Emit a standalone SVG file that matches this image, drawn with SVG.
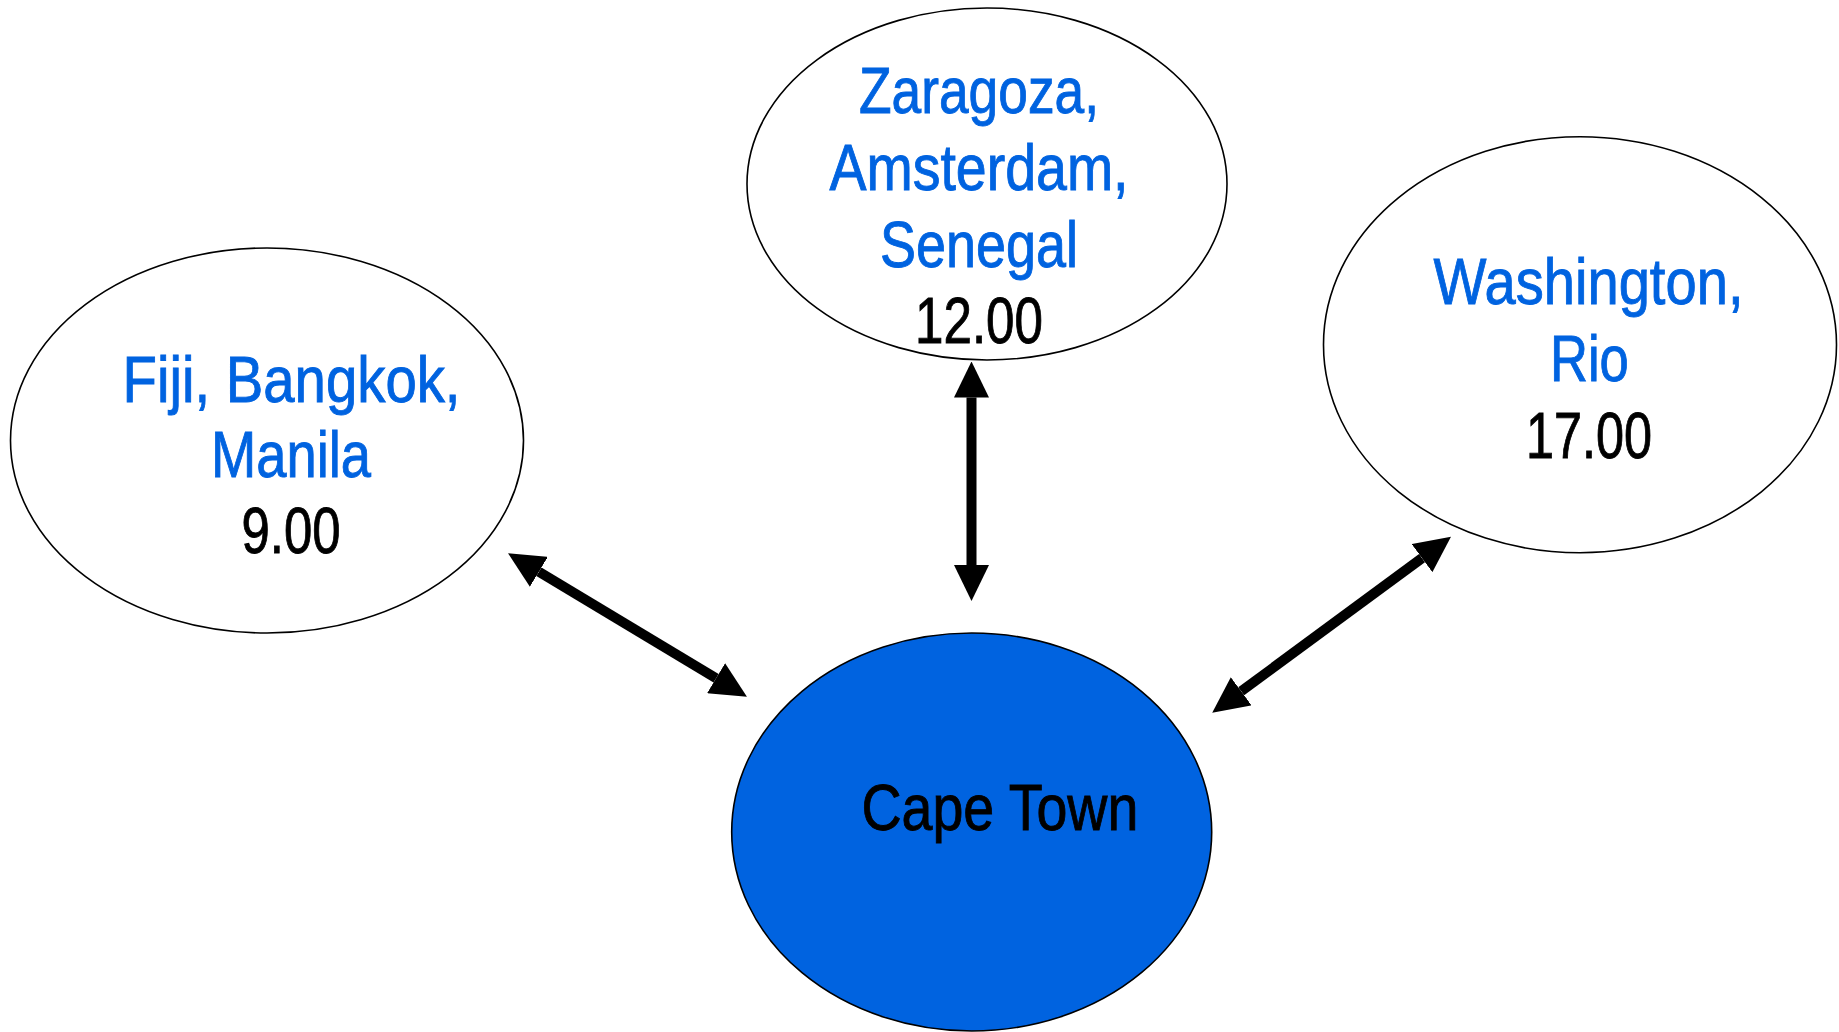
<svg xmlns="http://www.w3.org/2000/svg" width="1839" height="1032" viewBox="0 0 1839 1032">
<style>
.node{fill:#ffffff;stroke:#000000;stroke-width:1.6}
.hub{fill:#0063E0;stroke:#000000;stroke-width:1.6}
.city{font-family:"Liberation Sans",Arial,sans-serif;font-size:64px;fill:#0063E0;stroke:#0063E0;stroke-width:0.9;text-anchor:middle}
.num{font-family:"Liberation Sans",Arial,sans-serif;font-size:64px;fill:#000000;stroke:#000000;stroke-width:0.9;text-anchor:middle}
.conn{stroke:#000000;stroke-width:10;fill:none;marker-start:url(#head);marker-end:url(#head)}
</style>
<defs>
<marker id="head" viewBox="0 0 36 35" refX="0" refY="17.5" markerWidth="36" markerHeight="35" markerUnits="userSpaceOnUse" orient="auto-start-reverse">
<path d="M0,0 L36,17.5 L0,35 z" fill="#000000"/>
</marker>
</defs>
<rect width="1839" height="1032" fill="#ffffff"/>
<g id="node-fiji">
<ellipse class="node" cx="267" cy="440.5" rx="256.5" ry="192.5"/>
<text class="city" x="291.5" y="401.7" textLength="338" lengthAdjust="spacingAndGlyphs">Fiji, Bangkok,</text>
<text class="city" x="291" y="477.3" textLength="160" lengthAdjust="spacingAndGlyphs">Manila</text>
<text class="num" x="291" y="553.3" textLength="99" lengthAdjust="spacingAndGlyphs">9.00</text>
</g>
<g id="node-zaragoza">
<ellipse class="node" cx="987" cy="184" rx="240" ry="176"/>
<text class="city" x="979" y="112.7" textLength="240" lengthAdjust="spacingAndGlyphs">Zaragoza,</text>
<text class="city" x="979" y="190" textLength="299" lengthAdjust="spacingAndGlyphs">Amsterdam,</text>
<text class="city" x="979" y="266.7" textLength="198" lengthAdjust="spacingAndGlyphs">Senegal</text>
<text class="num" x="979" y="342.7" textLength="128" lengthAdjust="spacingAndGlyphs">12.00</text>
</g>
<g id="node-washington">
<ellipse class="node" cx="1580" cy="344.7" rx="256.5" ry="208"/>
<text class="city" x="1588.5" y="304" textLength="310" lengthAdjust="spacingAndGlyphs">Washington,</text>
<text class="city" x="1589.4" y="381" textLength="79" lengthAdjust="spacingAndGlyphs">Rio</text>
<text class="num" x="1589" y="457.7" textLength="126" lengthAdjust="spacingAndGlyphs">17.00</text>
</g>
<g id="node-capetown">
<ellipse class="hub" cx="971.7" cy="832" rx="240" ry="199"/>
<text class="num" x="999.9" y="830" textLength="277" lengthAdjust="spacingAndGlyphs">Cape Town</text>
</g>
<g id="connectors">
<line class="conn" x1="971.5" y1="397.5" x2="971.5" y2="565"/>
<line class="conn" x1="538.9" y1="571.8" x2="716.1" y2="678.2"/>
<line class="conn" x1="1422" y1="558.1" x2="1241.2" y2="691.3"/>
</g>
</svg>
